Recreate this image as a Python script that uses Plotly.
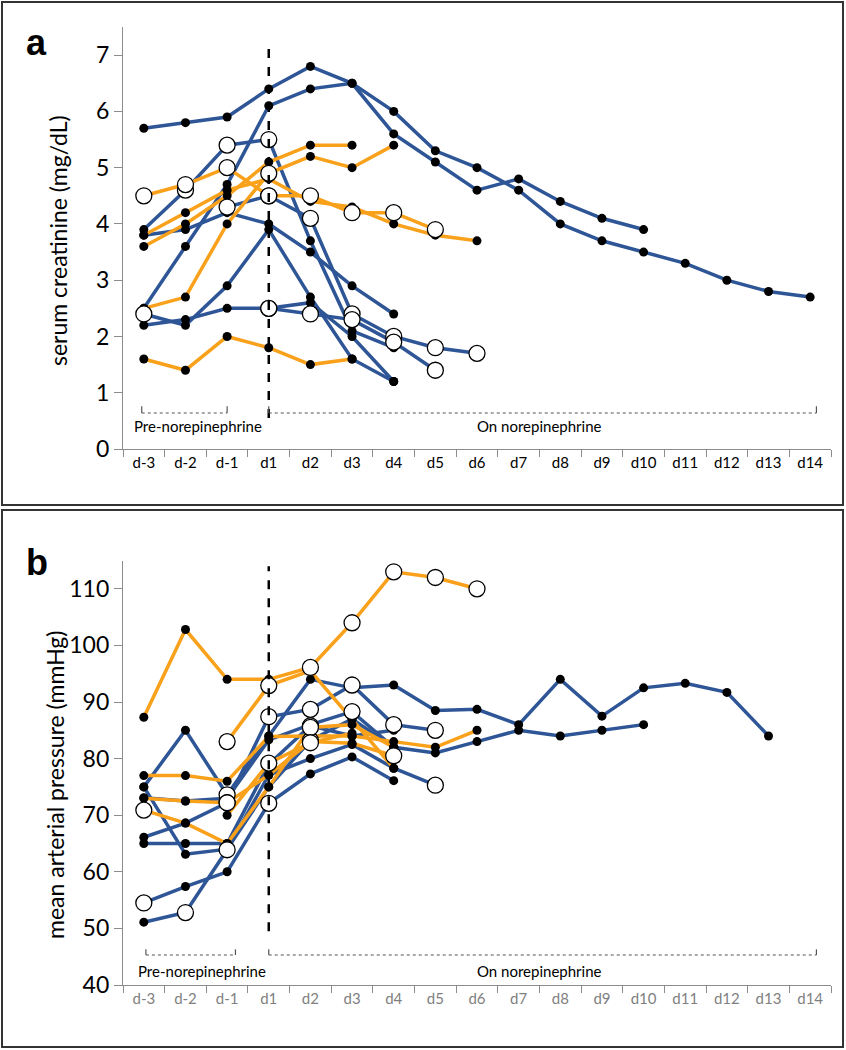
import plotly.graph_objects as go

DAYS = ["d-3", "d-2", "d-1", "d1", "d2", "d3", "d4", "d5", "d6", "d7",
        "d8", "d9", "d10", "d11", "d12", "d13", "d14"]

# ---------------- panel a: serum creatinine (mg/dL) ----------------
A_O1 = [4.5, 4.7, 5.0, 4.5, 4.5, 4.2, 4.2, 3.9]
A_O1_open = [1, 1, 1, 1, 1, 1, 1, 1]
A_O2 = [3.8, 4.2, 4.6, 4.8, 4.4, 4.3, 4.0, 3.8, 3.7]
A_O2_open = [0, 0, 0, 0, 0, 0, 0, 0, 0]
A_O3 = [3.6, 4.0, 4.5, 5.1, 5.4, 5.4]
A_O3_open = [0, 0, 0, 0, 0, 0]
A_O4 = [2.5, 2.7, 4.0, 4.9, 5.2, 5.0, 5.4]
A_O4_open = [0, 0, 0, 1, 0, 0, 0]
A_O5 = [1.6, 1.4, 2.0, 1.8, 1.5, 1.6]
A_O5_open = [0, 0, 0, 0, 0, 0]

A_B1 = [5.7, 5.8, 5.9, 6.4, 6.8, 6.5, 5.6, 5.1, 4.6, 4.8, 4.4, 4.1, 3.9]
A_B1_open = [0] * 13
A_B2 = [2.5, 3.6, 4.7, 6.1, 6.4, 6.5, 6.0, 5.3, 5.0, 4.6, 4.0, 3.7, 3.5, 3.3, 3.0, 2.8, 2.7]
A_B2_open = [0] * 17
A_B3 = [3.9, 4.6, 5.4, 5.5, 3.7, 2.1, 1.8]
A_B3_open = [0, 1, 1, 1, 0, 0, 0]
A_B4 = [3.8, 3.9, 4.2, 4.0, 3.5, 2.9, 2.4]
A_B4_open = [0, 0, 0, 0, 0, 0, 0]
A_B5 = [2.4, 2.2, 2.9, 3.9, 2.7, 1.6, 1.2]
A_B5_open = [1, 0, 0, 0, 0, 0, 0]
A_B6 = [2.2, 2.3, 2.5, 2.5, 2.6, 2.0, 1.2]
A_B6_open = [0, 0, 0, 1, 0, 0, 0]
A_B7 = [None, None, 4.3, 4.5, 4.1, 2.4, 2.0, 1.8, 1.7]
A_B7_open = [0, 0, 1, 1, 1, 1, 1, 1, 1]
A_B8 = [None, None, None, 2.5, 2.4, 2.3, 1.9, 1.4]
A_B8_open = [0, 0, 0, 1, 1, 1, 1, 1]

# ---------------- panel b: mean arterial pressure (mmHg) ----------------
B_O1 = [87.3, 102.8, 94.0, 94.0, 96.1, 104.0, 113.0, 112.0, 110.0]
B_O1_open = [0, 0, 0, 0, 1, 1, 1, 1, 1]
B_O2 = [None, None, 83.0, 92.9, 95.5, 87.0, 78.3]
B_O2_open = [0, 0, 1, 1, 0, 0, 0]
B_O3 = [77.0, 77.0, 76.0, 83.9, 84.0, 84.0, 83.0, 82.0, 85.0]
B_O3_open = [0, 0, 0, 0, 0, 0, 0, 0, 0]
B_O4 = [73.0, 72.5, 72.2, 77.1, 83.0, 82.7, 80.5]
B_O4_open = [0, 0, 1, 0, 0, 0, 1]
B_O5 = [70.9, 68.6, 65.0, 75.0, 85.5, 86.0, 82.0]
B_O5_open = [1, 0, 0, 0, 1, 0, 0]
B_O6 = [None, None, 70.0, 79.2, 82.8, 84.5]
B_O6_open = [0, 0, 0, 1, 1, 0]

B_B1 = [75.0, 85.0, 73.6, 84.0, 94.0, 92.5, 93.0, 88.5, 88.7, 86.0, 94.0, 87.5, 92.5, 93.3, 91.7, 84.0]
B_B1_open = [0, 0, 1] + [0] * 13
B_B2 = [66.1, 68.6, 72.2, 87.4, 88.7, 93.0, 86.0, 85.0]
B_B2_open = [0, 0, 1, 1, 1, 1, 1, 1]
B_B3 = [73.1, 72.5, 73.0, 83.3, 86.0, 88.3, 82.0, 81.0, 83.0, 85.0, 84.0, 85.0, 86.0]
B_B3_open = [0, 0, 0, 0, 0, 1, 0, 0, 0, 0, 0, 0, 0]
B_B4 = [65.0, 65.0, 65.0, 79.0, 85.8, 84.0, 85.0]
B_B4_open = [0, 0, 0, 0, 1, 0, 0]
B_B5 = [54.5, 57.4, 60.0, 72.1, 77.3, 80.3, 76.1]
B_B5_open = [1, 0, 0, 1, 0, 0, 0]
B_B6 = [51.1, 52.8, 63.9, 77.1, 80.0, 82.5, 78.3, 75.3]
B_B6_open = [0, 1, 1, 0, 0, 0, 0, 1]
B_B7 = [75.0, 63.1, 64.0, 75.0, 83.2, 87.0, 82.0]
B_B7_open = [0, 0, 0, 0, 1, 0, 0]

ORANGE = "#F9A11B"
BLUE = "#2E5596"
FONT = "Lato, 'Open Sans', sans-serif"

panel_a = [
    (A_B1, A_B1_open, BLUE), (A_B2, A_B2_open, BLUE), (A_B3, A_B3_open, BLUE),
    (A_B4, A_B4_open, BLUE), (A_B5, A_B5_open, BLUE), (A_B6, A_B6_open, BLUE),
    (A_B7, A_B7_open, BLUE), (A_B8, A_B8_open, BLUE),
    (A_O1, A_O1_open, ORANGE), (A_O2, A_O2_open, ORANGE), (A_O3, A_O3_open, ORANGE),
    (A_O4, A_O4_open, ORANGE), (A_O5, A_O5_open, ORANGE),
]
panel_b = [
    (B_B1, B_B1_open, BLUE), (B_B2, B_B2_open, BLUE), (B_B3, B_B3_open, BLUE),
    (B_B4, B_B4_open, BLUE), (B_B5, B_B5_open, BLUE), (B_B6, B_B6_open, BLUE),
    (B_B7, B_B7_open, BLUE),
    (B_O1, B_O1_open, ORANGE), (B_O2, B_O2_open, ORANGE), (B_O3, B_O3_open, ORANGE),
    (B_O4, B_O4_open, ORANGE), (B_O5, B_O5_open, ORANGE), (B_O6, B_O6_open, ORANGE),
]

fig = go.Figure()


def add_panel(series, xa, ya):
    # lines first
    for vals, op, col in series:
        fig.add_trace(go.Scatter(
            x=DAYS[:len(vals)], y=vals, mode="lines", xaxis=xa, yaxis=ya,
            line=dict(color=col, width=3.5), connectgaps=False,
            showlegend=False, hoverinfo="skip"))
    # black markers
    for vals, op, col in series:
        xs = [DAYS[i] for i, v in enumerate(vals) if v is not None and not op[i]]
        ys = [v for i, v in enumerate(vals) if v is not None and not op[i]]
        fig.add_trace(go.Scatter(
            x=xs, y=ys, mode="markers", xaxis=xa, yaxis=ya,
            marker=dict(color="black", size=9, line=dict(width=0)),
            showlegend=False, hoverinfo="skip"))
    # open markers on top
    for vals, op, col in series:
        xs = [DAYS[i] for i, v in enumerate(vals) if v is not None and op[i]]
        ys = [v for i, v in enumerate(vals) if v is not None and op[i]]
        fig.add_trace(go.Scatter(
            x=xs, y=ys, mode="markers", xaxis=xa, yaxis=ya,
            marker=dict(color="white", size=16, line=dict(width=1.3, color="black")),
            showlegend=False, hoverinfo="skip"))


add_panel(panel_a, "x", "y")
add_panel(panel_b, "x2", "y2")

W, H = 846, 1050
xdom = [123 / W, 831 / W]

xcommon = dict(type="category", categoryorder="array", categoryarray=DAYS,
               range=[-0.5, 16.5], domain=xdom, tickson="boundaries",
               ticks="outside", ticklen=7, tickcolor="#8c8c8c", showline=True,
               linecolor="#8c8c8c", linewidth=1.3, showgrid=False, zeroline=False)
ycommon = dict(ticks="outside", ticklen=8, tickcolor="#8c8c8c", showline=True,
               linecolor="#8c8c8c", linewidth=1.3, showgrid=False, zeroline=False,
               tickfont=dict(size=23, color="black", family=FONT))

fig.update_layout(
    width=W, height=H, margin=dict(l=0, r=0, t=0, b=0, autoexpand=False),
    paper_bgcolor="white", plot_bgcolor="white",
    font=dict(family=FONT),
    xaxis=dict(**xcommon, anchor="y", tickfont=dict(size=15, color="black", family=FONT)),
    yaxis=dict(**ycommon, anchor="x", domain=[1 - 449 / H, 1 - 27 / H],
               range=[0, 7.5], tickvals=[0, 1, 2, 3, 4, 5, 6, 7]),
    xaxis2=dict(**xcommon, anchor="y2", tickfont=dict(size=15, color="#7f7f7f", family=FONT)),
    yaxis2=dict(**ycommon, anchor="x2", domain=[1 - 985 / H, 1 - 560.5 / H],
                range=[40, 115], tickvals=[40, 50, 60, 70, 80, 90, 100, 110]),
)

shapes = []
# panel frames
shapes.append(dict(type="rect", xref="paper", yref="paper", x0=2 / W, x1=843 / W,
                   y0=1 - 505 / H, y1=1 - 2 / H, line=dict(color="#333333", width=2)))
shapes.append(dict(type="rect", xref="paper", yref="paper", x0=2 / W, x1=843 / W,
                   y0=1 - 1047 / H, y1=1 - 510 / H, line=dict(color="#333333", width=2)))
# dashed start-of-treatment lines
shapes.append(dict(type="line", xref="x", yref="y", x0=3, x1=3, y0=0.55, y1=7.2,
                   line=dict(color="black", width=2.5, dash="dash")))
shapes.append(dict(type="line", xref="x2", yref="y2", x0=3, x1=3, y0=49.5, y1=114,
                   line=dict(color="black", width=2.5, dash="dash")))


def bracket(xr, yr, x0, x1, yb, ytop):
    st = dict(color="#555555", width=1.2, dash="dot")
    shapes.append(dict(type="line", xref=xr, yref=yr, x0=x0, x1=x1, y0=yb, y1=yb, line=st))
    shapes.append(dict(type="line", xref=xr, yref=yr, x0=x0, x1=x0, y0=yb, y1=ytop,
                       line=dict(color="#555555", width=1.2)))
    shapes.append(dict(type="line", xref=xr, yref=yr, x0=x1, x1=x1, y0=yb, y1=ytop,
                       line=dict(color="#555555", width=1.2)))


bracket("x", "y", -0.05, 2.0, 0.64, 0.76)
bracket("x", "y", 3.0, 16.15, 0.64, 0.76)
bracket("x2", "y2", 0.05, 2.2, 45.3, 46.3)
bracket("x2", "y2", 3.0, 16.15, 45.3, 46.3)

annotations = [
    dict(text="<b>a</b>", xref="paper", yref="paper", x=24 / W, y=1 - 42 / H,
         showarrow=False, font=dict(size=36, family="Arial", color="black"),
         xanchor="left", yanchor="middle"),
    dict(text="<b>b</b>", xref="paper", yref="paper", x=24 / W, y=1 - 562 / H,
         showarrow=False, font=dict(size=36, family="Arial", color="black"),
         xanchor="left", yanchor="middle"),
    dict(text="serum creatinine (mg/dL)", xref="paper", yref="paper", x=58 / W,
         y=1 - 241 / H, textangle=-90, showarrow=False, xanchor="center",
         yanchor="middle", font=dict(size=23, family=FONT, color="black")),
    dict(text="mean arterial pressure (mmHg)", xref="paper", yref="paper", x=55 / W,
         y=1 - 785 / H, textangle=-90, showarrow=False, xanchor="center",
         yanchor="middle", font=dict(size=23, family=FONT, color="black")),
    dict(text="Pre-norepinephrine", xref="x", yref="y", x=1.3, y=0.4,
         showarrow=False, font=dict(size=15, family=FONT, color="black")),
    dict(text="On norepinephrine", xref="x", yref="y", x=9.5, y=0.4,
         showarrow=False, font=dict(size=15, family=FONT, color="black")),
    dict(text="Pre-norepinephrine", xref="x2", yref="y2", x=1.4, y=42.4,
         showarrow=False, font=dict(size=15, family=FONT, color="black")),
    dict(text="On norepinephrine", xref="x2", yref="y2", x=9.5, y=42.4,
         showarrow=False, font=dict(size=15, family=FONT, color="black")),
]

fig.update_layout(shapes=shapes, annotations=annotations)
fig.write_html("out.html", config={"displayModeBar": False},
               post_script="document.body.style.margin='0';"
                           "document.body.style.overflow='hidden';")
